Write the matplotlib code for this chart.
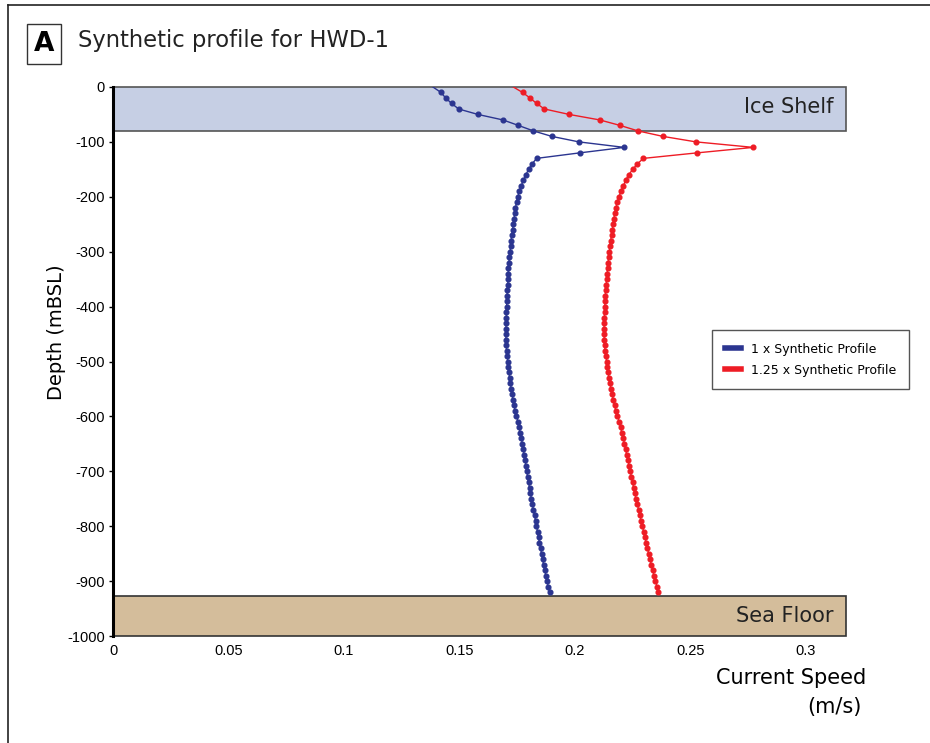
import matplotlib
matplotlib.use("Agg")
import matplotlib.pyplot as plt
from matplotlib.lines import Line2D
from matplotlib.patches import Rectangle
import numpy as np

# ── data ─────────────────────────────────────────────────────────────────────
DEPTH = list(range(0, -930, -10))  # 0 .. -920 m, 10 m spacing

SPEED_1X = [
    0.1385, 0.1420, 0.1440, 0.1466, 0.1496, 0.1580, 0.1688, 0.1755, 0.1820, 0.1900,
    0.2017, 0.2213, 0.2020, 0.1834, 0.1814, 0.1799, 0.1787, 0.1776, 0.1767, 0.1759,
    0.1752, 0.1747, 0.1742, 0.1739, 0.1736, 0.1733, 0.1730, 0.1726, 0.1723, 0.1721,
    0.1719, 0.1716, 0.1714, 0.1712, 0.1711, 0.1710, 0.1709, 0.1707, 0.1706, 0.1705,
    0.1704, 0.1703, 0.1703, 0.1702, 0.1701, 0.1701, 0.1701, 0.1702, 0.1704, 0.1707,
    0.1709, 0.1711, 0.1714, 0.1717, 0.1720, 0.1724, 0.1728, 0.1732, 0.1736, 0.1741,
    0.1746, 0.1754, 0.1758, 0.1763, 0.1768, 0.1772, 0.1776, 0.1780, 0.1784, 0.1788,
    0.1791, 0.1795, 0.1799, 0.1803, 0.1807, 0.1811, 0.1815, 0.1820, 0.1825, 0.1829,
    0.1833, 0.1838, 0.1842, 0.1846, 0.1851, 0.1855, 0.1860, 0.1864, 0.1869, 0.1874,
    0.1879, 0.1884, 0.1890,
]

SPEED_125X = [
    0.1733, 0.1773, 0.1805, 0.1834, 0.1867, 0.1975, 0.2107, 0.2195, 0.2273, 0.2381,
    0.2524, 0.2772, 0.2528, 0.2296, 0.2270, 0.2250, 0.2232, 0.2219, 0.2209, 0.2199,
    0.2190, 0.2183, 0.2177, 0.2172, 0.2168, 0.2165, 0.2162, 0.2158, 0.2154, 0.2151,
    0.2149, 0.2146, 0.2143, 0.2141, 0.2139, 0.2137, 0.2135, 0.2133, 0.2131, 0.2130,
    0.2129, 0.2128, 0.2127, 0.2126, 0.2126, 0.2126, 0.2127, 0.2128, 0.2130, 0.2134,
    0.2137, 0.2140, 0.2143, 0.2147, 0.2151, 0.2156, 0.2161, 0.2166, 0.2171, 0.2177,
    0.2183, 0.2192, 0.2197, 0.2203, 0.2209, 0.2214, 0.2219, 0.2224, 0.2230, 0.2234,
    0.2239, 0.2244, 0.2249, 0.2254, 0.2259, 0.2264, 0.2270, 0.2275, 0.2281, 0.2286,
    0.2292, 0.2297, 0.2303, 0.2308, 0.2313, 0.2319, 0.2325, 0.2330, 0.2336, 0.2342,
    0.2348, 0.2355, 0.2361,
]

ICE_SHELF = (0, -80)        # top, bottom (m)
SEA_FLOOR = (-927, -1000)
X_TICKS = [0, 0.05, 0.1, 0.15, 0.2, 0.25, 0.3]
Y_TICKS = list(range(0, -1100, -100))

BLUE = "#2b3590"
RED = "#ee1c25"
X_MAX = 0.3173

# ── plot ─────────────────────────────────────────────────────────────────────
fig = plt.figure(figsize=(9.3, 7.43), dpi=100)
ax = fig.add_axes([113 / 930, 1 - 636 / 743, (846 - 113) / 930, (636 - 87) / 743])
ax.set_xlim(0, X_MAX)
ax.set_ylim(-1000, 0)

ax.add_patch(Rectangle((0, ICE_SHELF[1]), X_MAX, ICE_SHELF[0] - ICE_SHELF[1],
                       facecolor="#c6cfe4", edgecolor="#555555", lw=1.2, zorder=1,
                       clip_on=False))
ax.add_patch(Rectangle((0, SEA_FLOOR[1]), X_MAX, SEA_FLOOR[0] - SEA_FLOOR[1],
                       facecolor="#d4bd9b", edgecolor="#333333", lw=1.2, zorder=1,
                       clip_on=False))
ax.text(X_MAX - 0.0055, -37, "Ice Shelf", ha="right", va="center",
        fontsize=15, color="#222222", zorder=4)
ax.text(X_MAX - 0.0055, -963, "Sea Floor", ha="right", va="center",
        fontsize=15, color="#222222", zorder=4)

mark = list(range(1, len(DEPTH)))  # surface point has no dot in the original
ax.plot(SPEED_1X, DEPTH, color=BLUE, lw=1.0, marker="o", ms=3.4, markevery=mark, zorder=3)
ax.plot(SPEED_125X, DEPTH, color=RED, lw=1.0, marker="o", ms=3.4, markevery=mark, zorder=3)

for s in ["top", "right", "bottom"]:
    ax.spines[s].set_visible(False)
ax.spines["left"].set_linewidth(2.2)
ax.spines["left"].set_zorder(5)

ax.set_xticks(X_TICKS)
ax.set_xticklabels(["0", "0.05", "0.1", "0.15", "0.2", "0.25", "0.3"],
                   fontfamily="Liberation Sans", fontsize=10.5)
ax.set_yticks(Y_TICKS)
ax.set_yticklabels([str(v) for v in Y_TICKS], fontfamily="Liberation Sans", fontsize=10.5)
ax.tick_params(axis="x", length=0, pad=6)
ax.tick_params(axis="y", length=3, width=1, pad=3)

ax.set_ylabel("Depth (mBSL)", fontsize=14)
ax.yaxis.set_label_coords(-0.064, 0.554)
fig.text(866 / 930, 1 - 678 / 743, "Current Speed", ha="right", va="center", fontsize=15)
fig.text(862 / 930, 1 - 707 / 743, "(m/s)", ha="right", va="center", fontsize=15)

handles = [Line2D([], [], color=BLUE, lw=4),
           Line2D([], [], color=RED, lw=4)]
leg = ax.legend(handles, ["1 x Synthetic Profile", "1.25 x Synthetic Profile"],
                loc="upper left", bbox_to_anchor=((712 - 113) / 733, 1 - (330 - 87) / 549),
                borderaxespad=0, fontsize=9, handlelength=1.3, handletextpad=0.8,
                borderpad=1.0, labelspacing=0.65, fancybox=False, framealpha=1,
                edgecolor="#555555")
leg.get_frame().set_linewidth(1.0)

# panel letter, title and page frame
fig.text(44 / 930, 1 - 44 / 743, "A", ha="center", va="center", fontsize=19,
         fontweight="bold",
         bbox=dict(boxstyle="square,pad=0.25", facecolor="white", edgecolor="#333333", lw=1))
fig.text(78 / 930, 1 - 40 / 743, "Synthetic profile for HWD-1", ha="left", va="center",
         fontsize=16.3, color="#222222")
fig.add_artist(Line2D([8 / 930, 8 / 930], [0, 1 - 5 / 743], color="#222222", lw=1.2))
fig.add_artist(Line2D([8 / 930, 1], [1 - 5 / 743, 1 - 5 / 743], color="#222222", lw=1.2))

fig.savefig("out.png", dpi=100)
plt.close(fig)
